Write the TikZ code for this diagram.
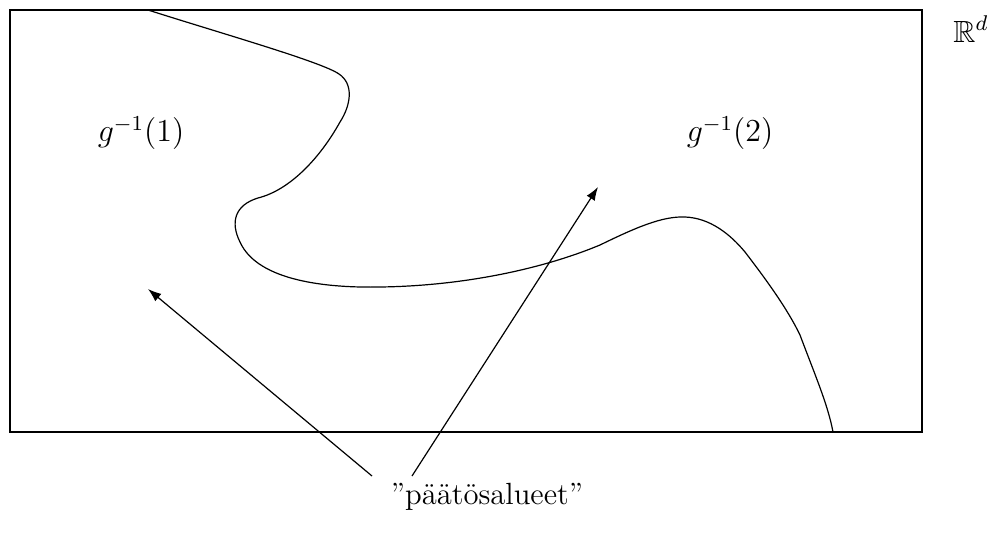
\documentclass[tikz,border=0pt]{standalone}
\usepackage{amssymb}
\usetikzlibrary{arrows.meta}
\begin{document}
\begin{tikzpicture}[x=0.375pt,y=-0.375pt,
  arr/.style={-{Latex[length=5pt,width=3.6pt]}, line width=0.45pt},
  lbl/.style={inner sep=0pt, font=\fontsize{11.5}{14}\selectfont}]
\useasboundingbox (0,0) rectangle (997,539);
\draw[line width=0.5pt] (10,10) rectangle (922,432);
\draw[line width=0.45pt] (148,10) .. controls (220,33) and (322,62) .. (339,74)
  .. controls (354,84) and (351,105) .. (340,122)
  .. controls (320,158) and (290,190) .. (258,198)
  .. controls (235,205) and (230,222) .. (240,242)
  .. controls (258,282) and (330,288) .. (380,287)
  .. controls (460,286) and (540,270) .. (600,245)
  .. controls (635,228) and (662,216) .. (685,217)
  .. controls (710,218) and (730,234) .. (745,252)
  .. controls (768,282) and (788,310) .. (800,335)
  .. controls (815,375) and (828,405) .. (833,432);
\node[lbl] (g1) at (141,133) {$g^{-1}(1)$};
\node[lbl] (g2) at (730,133) {$g^{-1}(2)$};
\node[lbl] (Rd) at (971,29) {$\mathbb{R}^d$};
\node[lbl] (txt) at (487,497) {''päätösalueet''};
\coordinate (s1) at (372,476);
\coordinate (t1) at (148,289);
\coordinate (s2) at (412,476);
\coordinate (t2) at (598,187);
\draw[arr] (s1) -- (t1);
\draw[arr] (s2) -- (t2);
\end{tikzpicture}
\end{document}
